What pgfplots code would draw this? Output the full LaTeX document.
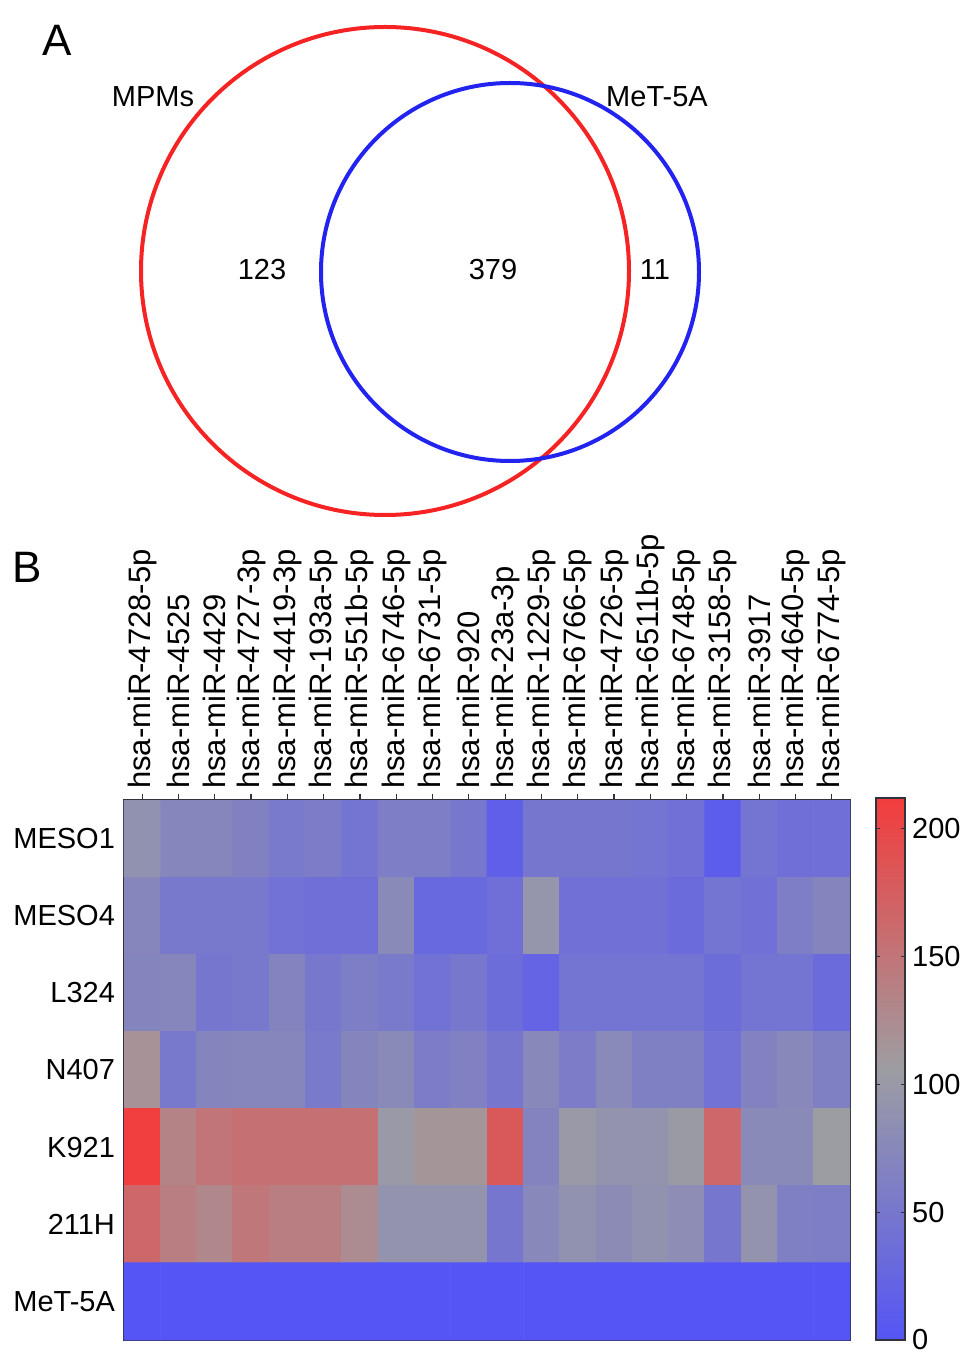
\documentclass[border=0pt]{standalone}
\usepackage{pgfplots}
\pgfplotsset{compat=1.18}
\usepackage{fontspec}
\setmainfont{Liberation Sans}
\definecolor{vred}{RGB}{245,35,35}
\definecolor{vblue}{RGB}{35,35,240}
\definecolor{frame}{RGB}{50,50,60}
\pgfplotsset{
  colormap={bgr}{rgb255=(85,85,245) rgb255=(157,157,162) rgb255=(243,60,60)},
  /pgf/number format/assume math mode=true,
}
\newcommand{\lbl}{\fontsize{14.5}{17}\selectfont}
\newcommand{\clbl}{\fontsize{15.5}{18}\selectfont}
\pgfplotstableread{
x y c
0 0 88
1 0 72
2 0 72
3 0 65
4 0 55
5 0 58
6 0 45
7 0 60
8 0 60
9 0 50
10 0 15
11 0 48
12 0 48
13 0 48
14 0 45
15 0 40
16 0 12
17 0 45
18 0 38
19 0 38
0 1 72
1 1 52
2 1 52
3 1 52
4 1 42
5 1 38
6 1 38
7 1 78
8 1 30
9 1 30
10 1 38
11 1 95
12 1 40
13 1 40
14 1 40
15 1 32
16 1 45
17 1 40
18 1 60
19 1 70
0 2 70
1 2 72
2 2 48
3 2 52
4 2 68
5 2 50
6 2 60
7 2 55
8 2 42
9 2 50
10 2 35
11 2 22
12 2 45
13 2 45
14 2 45
15 2 45
16 2 35
17 2 45
18 2 45
19 2 32
0 3 118
1 3 52
2 3 70
3 3 72
4 3 72
5 3 55
6 3 70
7 3 78
8 3 58
9 3 64
10 3 48
11 3 75
12 3 58
13 3 76
14 3 62
15 3 62
16 3 42
17 3 66
18 3 75
19 3 62
0 4 210
1 4 135
2 4 150
3 4 155
4 4 155
5 4 155
6 4 155
7 4 100
8 4 115
9 4 115
10 4 180
11 4 68
12 4 100
13 4 92
14 4 92
15 4 102
16 4 165
17 4 78
18 4 78
19 4 105
0 5 165
1 5 140
2 5 130
3 5 148
4 5 140
5 5 140
6 5 125
7 5 92
8 5 92
9 5 92
10 5 48
11 5 75
12 5 88
13 5 80
14 5 88
15 5 82
16 5 48
17 5 92
18 5 62
19 5 60
0 6 0
1 6 0
2 6 0
3 6 0
4 6 0
5 6 0
6 6 0
7 6 0
8 6 0
9 6 0
10 6 0
11 6 0
12 6 0
13 6 0
14 6 0
15 6 0
16 6 0
17 6 0
18 6 0
19 6 0
}\heat
\begin{document}
\begin{tikzpicture}
\useasboundingbox (0,0) rectangle (484.5pt,680pt);
% Panel A: Venn diagram
\begin{axis}[at={(0pt,340pt)}, anchor=south west, scale only axis,
  width=484.5pt, height=340pt, hide axis, clip=false,
  xmin=0, xmax=969, ymin=0, ymax=680, y dir=reverse]
\draw[vred, line width=2pt] (axis cs:385,271) circle[radius=122pt];
\draw[vblue, line width=2pt] (axis cs:510,272) circle[radius=94.5pt];
\node[font=\fontsize{22}{26}\selectfont] at (axis cs:57,40) {A};
\node[font=\fontsize{22}{26}\selectfont] at (axis cs:27,567) {B};
\node[font=\lbl] at (axis cs:153,97) {MPMs};
\node[font=\lbl] at (axis cs:657,97) {MeT-5A};
\node[font=\lbl] at (axis cs:262,270) {123};
\node[font=\lbl] at (axis cs:493,270) {379};
\node[font=\lbl] at (axis cs:655,270) {11};
\end{axis}
% Panel B: heatmap
\begin{axis}[at={(62pt,280pt)}, anchor=north west, scale only axis,
  width=363pt, height=270pt,
  xmin=-0.5, xmax=19.5, ymin=-0.5, ymax=6.5, y dir=reverse,
  enlargelimits=false,
  axis line style={line width=0.8pt, frame},
  xtick={0,...,19},
  xticklabels={hsa-miR-4728-5p,hsa-miR-4525,hsa-miR-4429,hsa-miR-4727-3p,hsa-miR-4419-3p,hsa-miR-193a-5p,hsa-miR-551b-5p,hsa-miR-6746-5p,hsa-miR-6731-5p,hsa-miR-920,hsa-miR-23a-3p,hsa-miR-1229-5p,hsa-miR-6766-5p,hsa-miR-4726-5p,hsa-miR-6511b-5p,hsa-miR-6748-5p,hsa-miR-3158-5p,hsa-miR-3917,hsa-miR-4640-5p,hsa-miR-6774-5p},
  xticklabel pos=top, xtick pos=top, xtick align=outside,
  major tick length=3pt,
  xtick style={frame, line width=0.6pt},
  xticklabel style={rotate=90, anchor=west, font=\clbl, xshift=-1pt},
  ytick={0,...,6},
  yticklabels={MESO1,MESO4,L324,N407,K921,211H,MeT-5A},
  ytick style={draw=none},
  yticklabel style={font=\lbl, xshift=-1pt},
  colormap name=bgr, point meta min=0, point meta max=212,
  colorbar,
  colorbar style={at={(parent axis.north east)}, anchor=north west,
    xshift=4.5pt, yshift=1pt, scale only axis, width=14.5pt, height=271pt,
    axis line style={line width=0.8pt, frame},
    ytick={0,50,100,150,200}, ytick align=inside, ytick pos=both,
    yticklabel pos=right, major tick length=2pt,
    ytick style={frame, line width=0.6pt},
    yticklabel style={font=\lbl, xshift=0pt}},
]
\addplot[matrix plot*, mesh/cols=20, point meta=explicit] table[x=x, y=y, meta=c] {\heat};
\end{axis}
\end{tikzpicture}
\end{document}
